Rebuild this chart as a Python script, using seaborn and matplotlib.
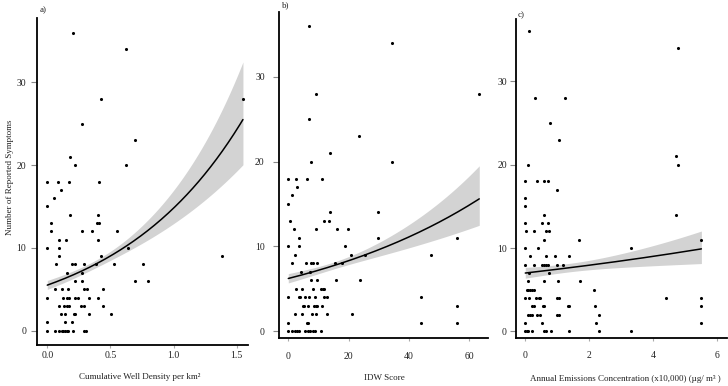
import numpy as np
import matplotlib
matplotlib.use("Agg")
import matplotlib.pyplot as plt
import seaborn as sns

sns.set_style("ticks")
plt.rcParams['font.family'] = ['Liberation Serif', 'DejaVu Serif']

# ---------------- data ----------------
# Panel a: cumulative well density per km2
a_x = [0, 0.058, 0.095, 0.114, 0.127, 0.140, 0.153, 0.167, 0.201, 0.294, 0.307,
       0, 0.143, 0.193,
       0.106, 0.143, 0.212, 0.222, 0.328, 0.503,
       0.095, 0.135, 0.153, 0.175, 0.267, 0.294, 0.439,
       0, 0.127, 0.153, 0.175, 0.222, 0.243, 0.328, 0.402,
       0.058, 0.116, 0.161, 0.294, 0.317, 0.439,
       0.217, 0.278, 0.698, 0.799,
       0.153, 0.278,
       0.069, 0.193, 0.217, 0.294, 0.386, 0.529, 0.762,
       0.095, 0.429, 1.386,
       0, 0.095, 0.638,
       0.095, 0.146, 0.402,
       0.032, 0.278, 0.354, 0.550,
       0.029, 0.392, 0.407,
       0.180, 0.402,
       0, 0.056, 0.106,
       0, 0.085, 0.169, 0.413,
       0.222, 0.62, 0.180, 0.698, 0.278, 0.423, 1.55, 0.62, 0.206]
a_y = [0, 0, 0, 0, 0, 0, 0, 0, 0, 0, 0,
       1, 1, 1,
       2, 2, 2, 2, 2, 2,
       3, 3, 3, 3, 3, 3, 3,
       4, 4, 4, 4, 4, 4, 4, 4,
       5, 5, 5, 5, 5, 5,
       6, 6, 6, 6,
       7, 7,
       8, 8, 8, 8, 8, 8, 8,
       9, 9, 9,
       10, 10, 10,
       11, 11, 11,
       12, 12, 12, 12,
       13, 13, 13,
       14, 14,
       15, 16, 17,
       18, 18, 18, 18,
       20, 20, 21, 23, 25, 28, 28, 34, 36]

# Panel b: IDW score
b_x = [0, 1.3, 2.3, 3.0, 3.6, 5.6, 6.5, 7.2, 8.1, 8.7, 11.0,
       0, 6.3, 6.6, 43.9, 55.9,
       2.2, 4.6, 7.7, 9.1, 12.7, 21.0,
       4.8, 5.2, 6.5, 8.6, 9.2, 9.5, 11.2, 55.9,
       0, 3.5, 3.9, 5.7, 6.7, 9.0, 12.0, 12.7, 43.9,
       2.5, 4.4, 8.1, 11.0, 11.5, 11.9,
       7.4, 9.5, 15.8, 23.8,
       4.3, 7.1,
       1.2, 5.9, 7.5, 8.1, 9.6, 15.4, 17.7,
       2.1, 20.7, 25.4, 47.2,
       0, 3.5, 18.9,
       3.4, 29.8, 55.9,
       1.9, 9.3, 16.2, 19.8,
       0.6, 12.0, 13.6,
       13.8, 29.8,
       0, 1.1, 2.8,
       0, 2.4, 6.1, 11.3,
       7.4, 34.4, 13.8, 23.6, 7.0, 9.3, 63.3, 34.4, 6.9]
b_y = [0, 0, 0, 0, 0, 0, 0, 0, 0, 0, 0,
       1, 1, 1, 1, 1,
       2, 2, 2, 2, 2, 2,
       3, 3, 3, 3, 3, 3, 3, 3,
       4, 4, 4, 4, 4, 4, 4, 4, 4,
       5, 5, 5, 5, 5, 5,
       6, 6, 6, 6,
       7, 7,
       8, 8, 8, 8, 8, 8, 8,
       9, 9, 9, 9,
       10, 10, 10,
       11, 11, 11,
       12, 12, 12, 12,
       13, 13, 13,
       14, 14,
       15, 16, 17,
       18, 18, 18, 18,
       20, 20, 21, 23, 25, 28, 28, 34, 36]

# Panel c: annual emissions concentration (x10,000)
c_x = [0, 0.05, 0.09, 0.22, 0.59, 0.66, 0.79, 1.36, 2.29, 3.31,
       0, 0.53, 2.22, 5.5,
       0.10, 0.15, 0.21, 0.375, 0.45, 0.99, 1.05, 2.29,
       0.22, 0.26, 0.54, 0.59, 1.32, 1.36, 2.17, 5.5,
       0, 0.125, 0.35, 0.42, 0.46, 0.98, 1.06, 4.40, 5.5,
       0.04, 0.09, 0.15, 0.20, 0.28, 2.16,
       0.09, 0.58, 1.03, 1.71,
       0.125, 0.74,
       0, 0.28, 0.51, 0.58, 0.65, 0.72, 0.98, 1.19,
       0.15, 0.65, 0.92, 1.35,
       0, 0.41, 3.30,
       0.59, 1.68, 5.5,
       0.02, 0.28, 0.65, 0.74,
       0, 0.51, 0.72,
       0.59, 4.70,
       0, 0, 0.98,
       0, 0.375, 0.59, 0.72,
       0.09, 4.76, 4.70, 1.04, 0.77, 0.29, 1.24, 4.76, 0.115]
c_y = [0, 0, 0, 0, 0, 0, 0, 0, 0, 0,
       1, 1, 1, 1,
       2, 2, 2, 2, 2, 2, 2, 2,
       3, 3, 3, 3, 3, 3, 3, 3,
       4, 4, 4, 4, 4, 4, 4, 4, 4,
       5, 5, 5, 5, 5, 5,
       6, 6, 6, 6,
       7, 7,
       8, 8, 8, 8, 8, 8, 8, 8,
       9, 9, 9, 9,
       10, 10, 10,
       11, 11, 11,
       12, 12, 12, 12,
       13, 13, 13,
       14, 14,
       15, 16, 17,
       18, 18, 18, 18,
       20, 20, 21, 23, 25, 28, 28, 34, 36]

# Fitted log-linear curves: value at x=0 and at the x end
a_fit = [5.5, 25.5]
b_fit = [6.2, 15.6]
c_fit = [7.0, 9.9]
# Standard error (log scale) of the band at three x positions
a_se_x, a_se = [0, 0.5, 1.55], [0.05, 0.031, 0.123]
b_se_x, b_se = [0, 15, 63.3], [0.045, 0.027, 0.114]
c_se_x, c_se = [0, 1.5, 5.5], [0.047, 0.034, 0.10]

a_xticks = [0.0, 0.5, 1.0, 1.5]
a_xticklabels = ["0.0", "0.5", "1.0", "1.5"]
b_xticks = [0, 20, 40, 60]
c_xticks = [0, 2, 4, 6]
y_ticks = [0, 10, 20, 30]

# ---------------- figure ----------------
W, H = 728, 386
fig = plt.figure(figsize=(W / 100, H / 100), dpi=100)


def px_axes(left, right, top, bottom):
    return fig.add_axes([left / W, 1 - bottom / H, (right - left) / W, (bottom - top) / H])


panels = [
    dict(x=a_x, y=a_y, fit=a_fit, sex=a_se_x, se=a_se, box=(37.3, 248, 17.7, 345),
         xlim=(-0.079, 1.59), ylim=(-1.73, 37.8), xt=a_xticks, xtl=a_xticklabels,
         xpad=2.0, ypad=4.0, letter="a)", lpos=(40, 10),
         xlabel="Cumulative Well Density per km²", xlpos=(140, 377)),
    dict(x=b_x, y=b_y, fit=b_fit, sex=b_se_x, se=b_se, box=(279.3, 488, 12, 337.7),
         xlim=(-2.98, 66.2), ylim=(-0.79, 37.66), xt=b_xticks, xtl=[str(v) for v in b_xticks],
         xpad=8.0, ypad=6.5, letter="b)", lpos=(282, 5),
         xlabel="IDW Score", xlpos=(384, 378)),
    dict(x=c_x, y=c_y, fit=c_fit, sex=c_se_x, se=c_se, box=(516, 727, 19, 338),
         xlim=(-0.29, 6.30), ylim=(-0.8, 37.5), xt=c_xticks, xtl=[str(v) for v in c_xticks],
         xpad=7.5, ypad=2.5, letter="c)", lpos=(518, 15),
         xlabel="Annual Emissions Concentration (x10,000) (µg/ m³ )", xlpos=(625, 379)),
]

for p in panels:
    ax = px_axes(*p["box"])
    xs = np.asarray(p["x"], float)
    ys = np.asarray(p["y"], float)
    # fitted curve and band
    x0, x1 = 0.0, xs.max()
    grid = np.linspace(x0, x1, 200)
    l0, l1 = np.log(p["fit"][0]), np.log(p["fit"][1])
    eta = l0 + (l1 - l0) * (grid - x0) / (x1 - x0)
    coef = np.polyfit(p["sex"], np.square(p["se"]), 2)
    se = np.sqrt(np.clip(np.polyval(coef, grid), 1e-8, None))
    ax.fill_between(grid, np.exp(eta - 1.96 * se), np.exp(eta + 1.96 * se),
                    color="#d3d3d3", linewidth=0, zorder=1)
    sns.lineplot(x=grid, y=np.exp(eta), ax=ax, color="black", linewidth=1.1, zorder=3)
    sns.scatterplot(x=xs, y=ys, ax=ax, color="black", s=5, marker="o",
                    linewidth=0, zorder=4)

    ax.set_xlim(*p["xlim"])
    ax.set_ylim(*p["ylim"])
    ax.set_xticks(p["xt"])
    ax.set_xticklabels(p["xtl"])
    ax.set_yticks(y_ticks)
    ax.set_yticklabels([str(v) for v in y_ticks])
    ax.set_xlabel("")
    ax.set_ylabel("")
    for s in ["top", "right"]:
        ax.spines[s].set_visible(False)
    for s in ["left", "bottom"]:
        ax.spines[s].set_color("black")
        ax.spines[s].set_linewidth(1.3)
    ax.tick_params(axis="y", length=4.0, width=0.8, color="#888888",
                   labelsize=7, pad=p["ypad"], labelcolor="#222222")
    ax.tick_params(axis="x", length=2.0, width=0.8, color="#aaaaaa",
                   labelsize=7, pad=p["xpad"], labelcolor="#222222")
    ax.set_facecolor("white")

    fig.text(p["lpos"][0] / W, 1 - p["lpos"][1] / H, p["letter"], fontsize=6.5,
             ha="left", va="center", color="#222222")
    fig.text(p["xlpos"][0] / W, 1 - p["xlpos"][1] / H, p["xlabel"], fontsize=6.5,
             ha="center", va="center", color="#222222")

fig.text(10 / W, 1 - 177 / H, "Number of Reported Symptoms", fontsize=6.5,
         rotation=90, ha="center", va="center", color="#222222")

fig.savefig("out.png", dpi=100, facecolor="white")
